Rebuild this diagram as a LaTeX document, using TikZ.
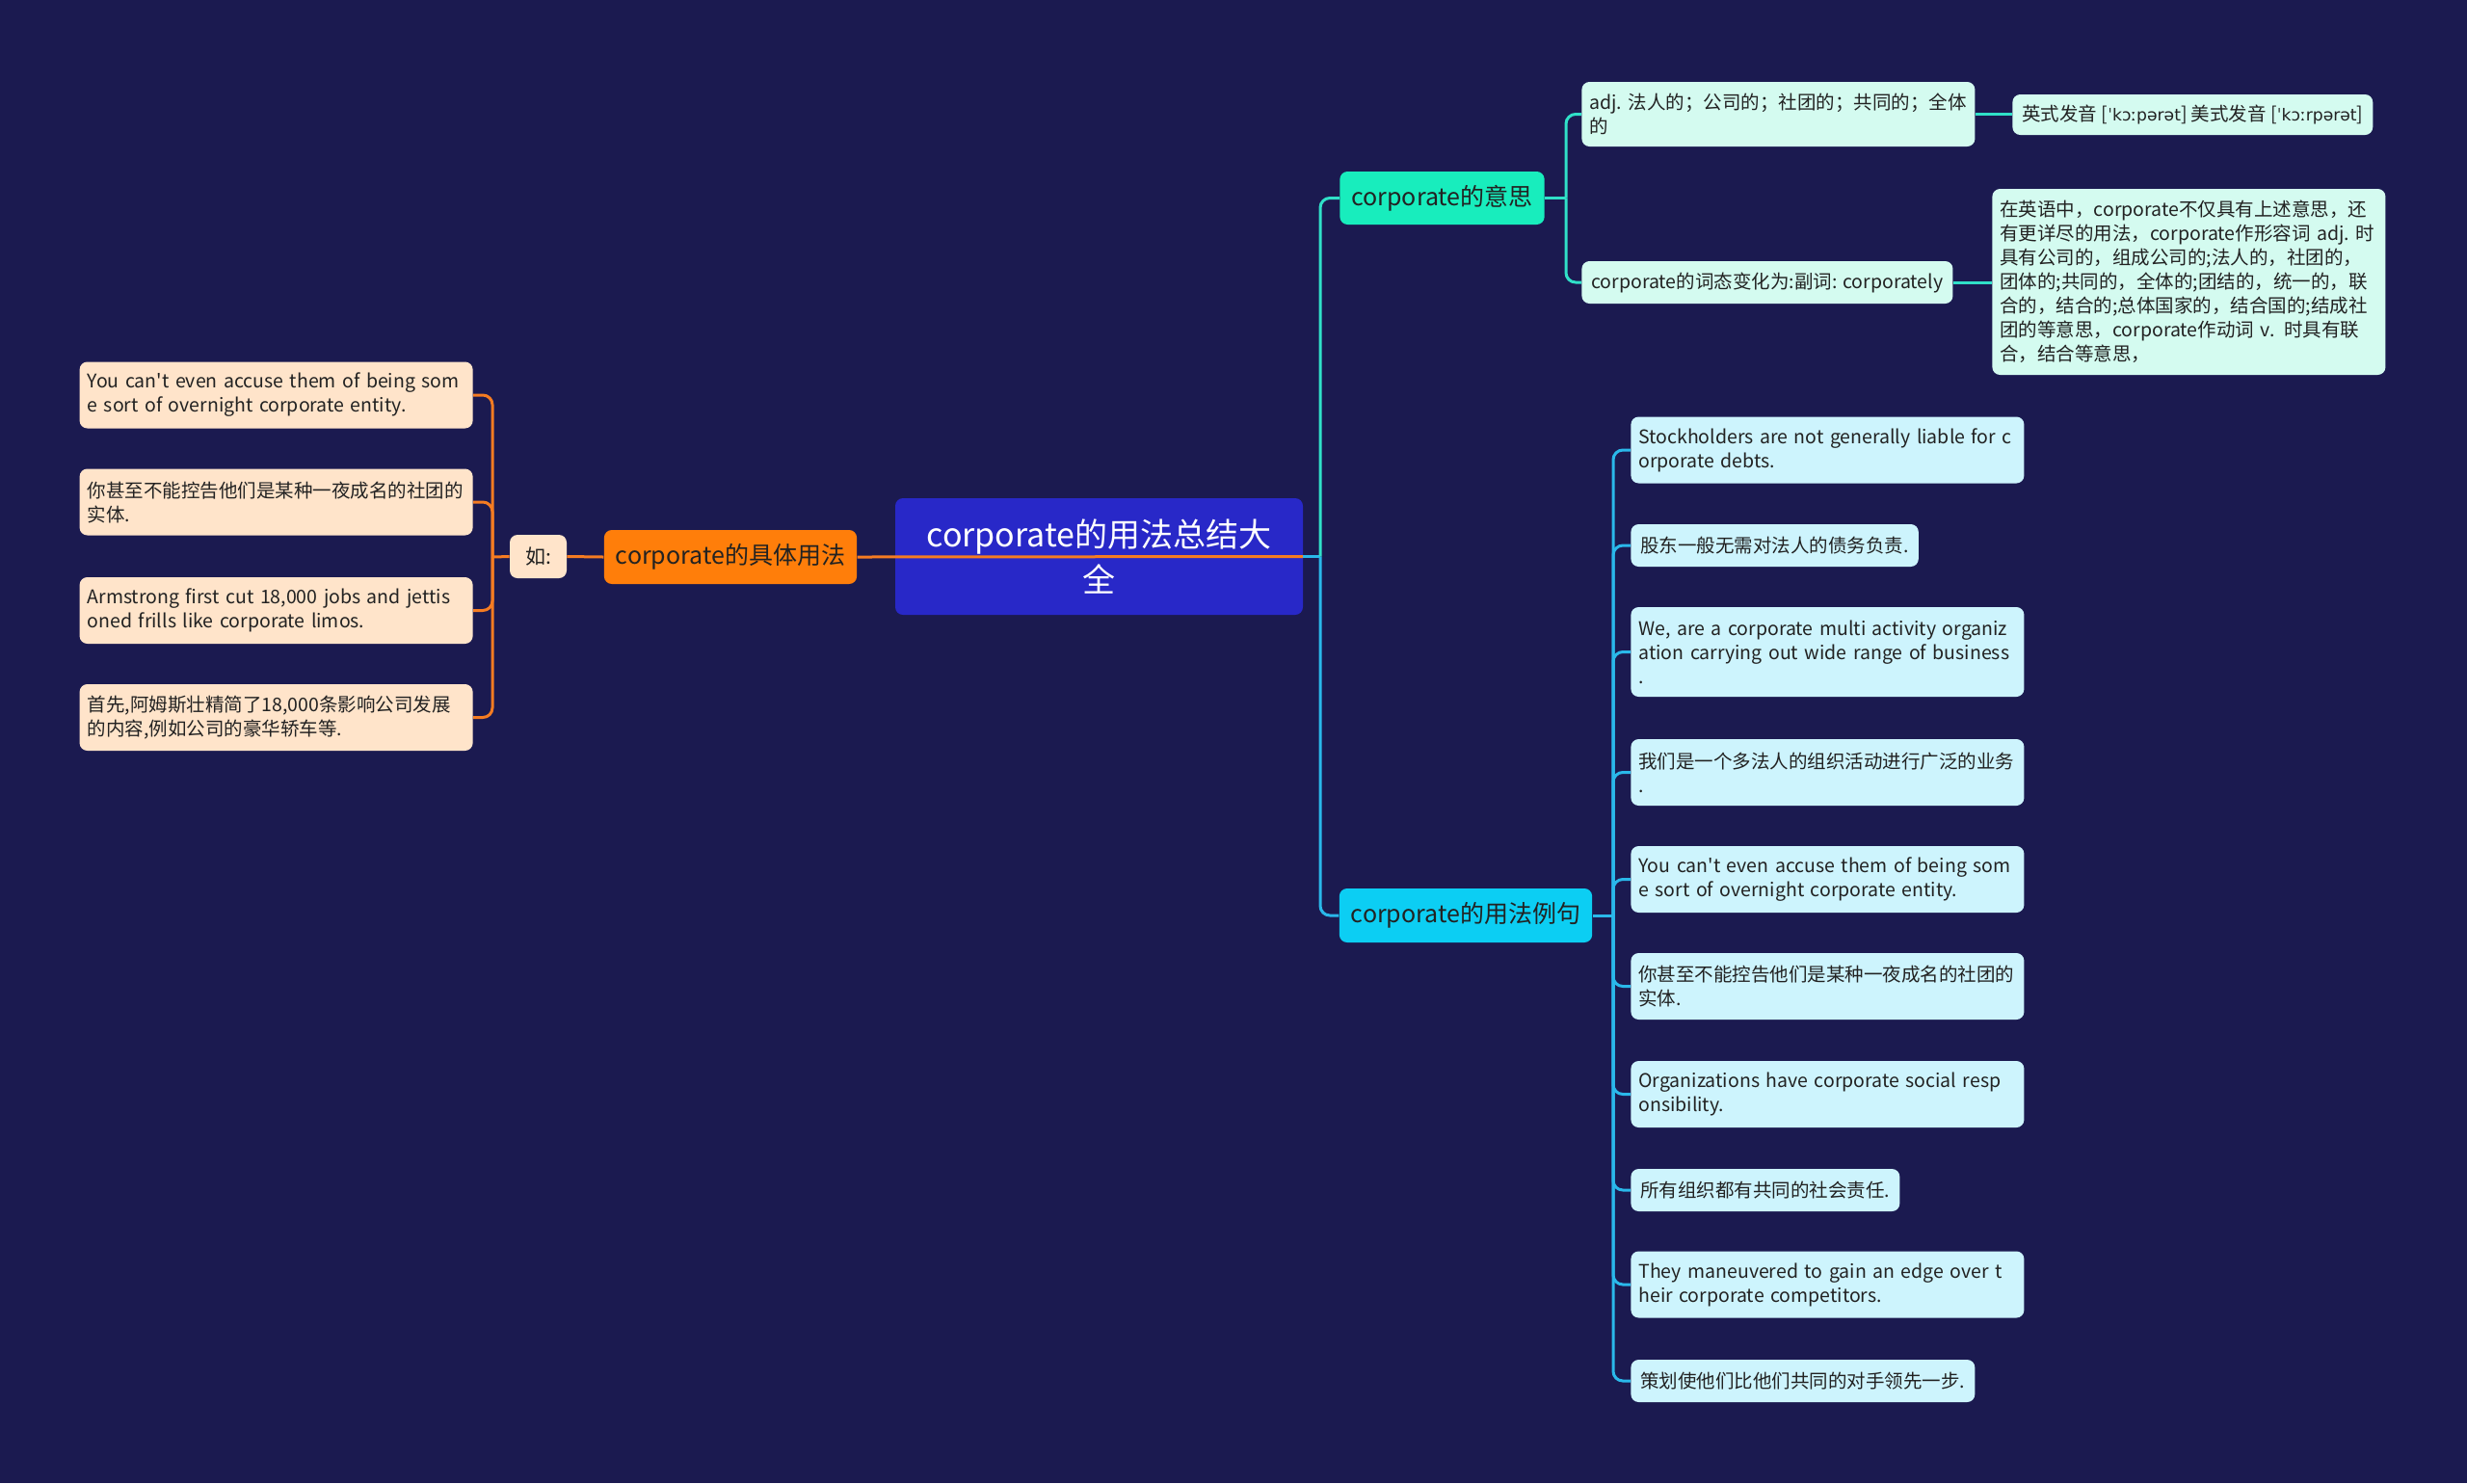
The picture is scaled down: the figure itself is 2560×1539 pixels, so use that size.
\documentclass[tikz,border=0pt]{standalone}
\usepackage{fontspec}
\setmainfont{Noto Sans CJK SC}[Ligatures=TeXOff]
\newfontfamily\ipafont{DejaVu Sans}[Scale=0.88]
\usetikzlibrary{positioning}
\definecolor{Night}{HTML}{1B1A50}
\definecolor{RootBlue}{HTML}{2828C8}
\definecolor{Ink}{HTML}{222222}
\definecolor{Orange}{HTML}{FF7E0A}
\definecolor{OrangeLine}{HTML}{F57C22}
\definecolor{Peach}{HTML}{FFE4CA}
\definecolor{Teal}{HTML}{18EDBD}
\definecolor{TealLine}{HTML}{30E0C8}
\definecolor{Cyan}{HTML}{0CCEF3}
\definecolor{CyanLine}{HTML}{2AB8EA}
\definecolor{Mint}{HTML}{D4FBF0}
\definecolor{Ice}{HTML}{CDF4FD}
\newcommand\leaffont{\fontsize{9.75pt}{12.5pt}\selectfont}
\newcommand\branchfont{\fontsize{12.5pt}{15pt}\selectfont}

\begin{document}
\begin{tikzpicture}[x=0.5pt,y=-0.5pt,
  box/.style={rounded corners=4pt,inner xsep=4pt,inner ysep=4pt,text=Ink,font=\leaffont,align=left},
  leafO/.style={box,fill=Peach},
  leafM/.style={box,fill=Mint},
  leafC/.style={box,fill=Ice},
  wide/.style={text width=196pt},
  tall1/.style={minimum height=22pt,inner xsep=5pt},
  tall2/.style={minimum height=34.5pt},
  tall3/.style={minimum height=46.5pt},
  branch/.style={rounded corners=4pt,inner xsep=6pt,text=Ink,font=\branchfont,minimum height=28pt},
  rootbox/.style={rounded corners=4pt,fill=RootBlue,text=white,font=\fontsize{17pt}{23.5pt}\selectfont,align=center,minimum width=211.5pt,minimum height=60.5pt},
  lineO/.style={OrangeLine,line width=1.5pt},
  lineT/.style={TealLine,line width=1.5pt},
  lineC/.style={CyanLine,line width=1.5pt}]
\useasboundingbox (0,0) rectangle (2560,1539);
\fill[Night] (0,0) rectangle (2560,1539);
% centre and left side
\node[rootbox] (root) at (1140.5,577.5) {corporate的用法总结大\\全};
\node[branch,fill=Orange] (use) at (758,578) {corporate的具体用法};
\node[leafO,font=\fontsize{10.5pt}{12.5pt}\selectfont,minimum width=29.5pt,minimum height=22.5pt] (ru) at (558.5,577.5) {如:};
\node[leafO,wide,tall2,anchor=east] (u1) at (491,410) {You can't even accuse them of being som\\e sort of overnight corporate entity.};
\node[leafO,wide,tall2,anchor=east] (u2) at (491,521) {你甚至不能控告他们是某种一夜成名的社团的\\实体.};
\node[leafO,wide,tall2,anchor=east] (u3) at (491,633.5) {Armstrong first cut 18,000 jobs and jettis\\oned frills like corporate limos.};
\node[leafO,wide,tall2,anchor=east] (u4) at (491,744.5) {首先,阿姆斯壮精简了18,000条影响公司发展\\的内容,例如公司的豪华轿车等.};
% right side
\node[branch,fill=Teal,minimum height=27.5pt] (mean) at (1496.5,205.5) {corporate的意思};
\node[branch,fill=Cyan] (ex) at (1521,950) {corporate的用法例句};
\node[leafM,wide,minimum height=33.5pt,anchor=west] (m1) at (1641,118.5) {adj.~法人的；公司的；社团的；共同的；全体\\的};
\node[leafM,tall1,anchor=west] (m2) at (1641,293) {corporate的词态变化为:副词: corporately};
\node[leafM,tall1,minimum height=21pt,anchor=west] (p1) at (2088,119) {英式发音 [{\ipafont ˈkɔːpərət}] 美式发音 [{\ipafont ˈkɔːrpərət}]};
\node[leafM,wide,minimum height=96.5pt,anchor=west] (p2) at (2067,292.5) {在英语中，corporate不仅具有上述意思，还\\有更详尽的用法，corporate作形容词~adj.~时\\具有公司的，组成公司的;法人的，社团的，\\团体的;共同的，全体的;团结的，统一的，联\\合的，结合的;总体国家的，结合国的;结成社\\团的等意思，corporate作动词 v. 时具有联\\合，结合等意思，};
\node[leafC,wide,tall2,anchor=west] (c1) at (1692,467) {Stockholders are not generally liable for c\\orporate debts.};
\node[leafC,tall1,anchor=west] (c2) at (1692,566) {股东一般无需对法人的债务负责.};
\node[leafC,wide,tall3,anchor=west] (c3) at (1692,676.5) {We, are a corporate multi activity organiz\\ation carrying out wide range of business\\.};
\node[leafC,wide,tall2,anchor=west] (c4) at (1692,801.5) {我们是一个多法人的组织活动进行广泛的业务\\.};
\node[leafC,wide,tall2,anchor=west] (c5) at (1692,912.5) {You can't even accuse them of being som\\e sort of overnight corporate entity.};
\node[leafC,wide,tall2,anchor=west] (c6) at (1692,1023.5) {你甚至不能控告他们是某种一夜成名的社团的\\实体.};
\node[leafC,wide,tall2,anchor=west] (c7) at (1692,1135.5) {Organizations have corporate social resp\\onsibility.};
\node[leafC,tall1,anchor=west] (c8) at (1692,1235) {所有组织都有共同的社会责任.};
\node[leafC,wide,tall2,anchor=west] (c9) at (1692,1333) {They maneuvered to gain an edge over t\\heir corporate competitors.};
\node[leafC,tall1,anchor=west] (c10) at (1692,1433) {策划使他们比他们共同的对手领先一步.};
% connectors
\coordinate (uT) at (511,578);
\coordinate (rT) at (1370,577.5);
\coordinate (mT) at (1625,205.5);
\coordinate (eT) at (1674,950);
\draw[lineO] (root.east) -- (use.east);
\draw[lineO] (use.west) -- (ru.east);
\draw[lineO] (ru.west) -- (uT);
\foreach \i in {1,...,4} {\draw[lineO,rounded corners=5pt] (uT) |- (u\i.east);}
\draw[lineC] (root.east) -- (rT);
\draw[lineT,rounded corners=5pt] (rT) |- (mean.west);
\draw[lineC,rounded corners=5pt] (rT) |- (ex.west);
\draw[lineT] (mean.east) -- (mT);
\draw[lineT,rounded corners=5pt] (mT) |- (m1.west);
\draw[lineT,rounded corners=5pt] (mT) |- (m2.west);
\draw[lineT] (m1.east) -- (m1.east -| p1.west);
\draw[lineT] (m2.east) -- (m2.east -| p2.west);
\draw[lineC] (ex.east) -- (eT);
\foreach \i in {1,...,10} {\draw[lineC,rounded corners=5pt] (eT) |- (c\i.west);}
\end{tikzpicture}
\end{document}
